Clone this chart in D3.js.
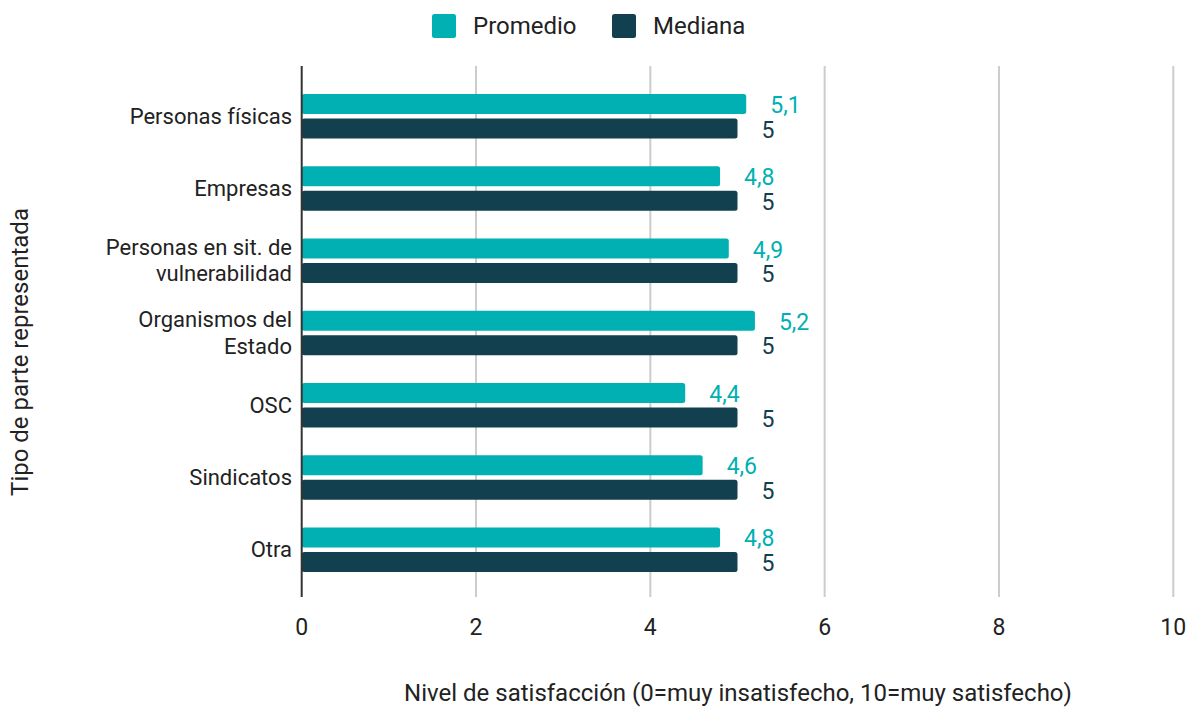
<!DOCTYPE html>
<html>
<head>
<meta charset="utf-8">
<script src="https://cdn.jsdelivr.net/npm/d3@7"></script>
<style>
  html, body { margin: 0; padding: 0; background: #fff; }
  svg { display: block; font-family: Roboto, "Noto Sans", sans-serif; }
</style>
</head>
<body>
<svg id="chart" width="1191" height="707"></svg>
<script>
// Satisfaction level by type of represented party
const categories = [
  ["Personas físicas"],
  ["Empresas"],
  ["Personas en sit. de", "vulnerabilidad"],
  ["Organismos del", "Estado"],
  ["OSC"],
  ["Sindicatos"],
  ["Otra"]
];
const promedio = [5.1, 4.8, 4.9, 5.2, 4.4, 4.6, 4.8];
const mediana = [5, 5, 5, 5, 5, 5, 5];
const seriesNames = ["Promedio", "Mediana"];
const seriesColors = ["#00b0b2", "#12404f"];
const xTicks = [0, 2, 4, 6, 8, 10];

const svg = d3.select("#chart");
const fmt = v => String(v).replace(".", ",");

const x = d3.scaleLinear().domain([0, 10]).range([301.7, 1173.3]);
const y = d3.scaleBand()
  .domain(categories.map((c, i) => i))
  .range([80, 585.5])
  .padding(0);

// vertical gridlines
svg.append("g")
  .selectAll("line")
  .data(xTicks.filter(t => t > 0))
  .join("line")
  .attr("x1", d => x(d)).attr("x2", d => x(d))
  .attr("y1", 66).attr("y2", 597)
  .attr("stroke", "#cccccc")
  .attr("stroke-width", 2);

// x tick labels
svg.append("g")
  .selectAll("text")
  .data(xTicks)
  .join("text")
  .attr("x", d => x(d))
  .attr("y", 627)
  .attr("dy", "0.35em")
  .attr("text-anchor", "middle")
  .attr("font-size", 23)
  .attr("fill", "#222")
  .text(d => d);

// bars
const barH = 20;
const offsets = [-22, 2.5];
const seriesData = [promedio, mediana];

seriesData.forEach((vals, s) => {
  const g = svg.append("g");
  g.selectAll("rect")
    .data(vals)
    .join("rect")
    .attr("x", x(0))
    .attr("y", (d, i) => y(i) + y.bandwidth() / 2 + offsets[s])
    .attr("width", d => x(d) - x(0))
    .attr("height", barH)
    .attr("rx", 2.5)
    .attr("fill", seriesColors[s]);

  g.selectAll("text")
    .data(vals)
    .join("text")
    .attr("x", d => x(d) + 24)
    .attr("y", (d, i) => y(i) + y.bandwidth() / 2 + offsets[s] + barH / 2 + 1)
    .attr("dy", "0.35em")
    .attr("font-size", 23)
    .attr("fill", seriesColors[s])
    .text(d => fmt(d));
});

// y axis line
svg.append("line")
  .attr("x1", x(0)).attr("x2", x(0))
  .attr("y1", 66).attr("y2", 597)
  .attr("stroke", "#333")
  .attr("stroke-width", 2);

// category labels
const catG = svg.append("g");
categories.forEach((lines, i) => {
  const cy = y(i) + y.bandwidth() / 2;
  const lh = 26.5;
  const t = catG.append("text")
    .attr("text-anchor", "end")
    .attr("font-size", 22)
    .attr("fill", "#222");
  lines.forEach((ln, k) => {
    t.append("tspan")
      .attr("x", 292)
      .attr("y", cy + (k - (lines.length - 1) / 2) * lh)
      .attr("dy", "0.35em")
      .text(ln);
  });
});

// axis titles
svg.append("text")
  .attr("x", 738)
  .attr("y", 693)
  .attr("dy", "0.35em")
  .attr("text-anchor", "middle")
  .attr("font-size", 24)
  .attr("fill", "#222")
  .text("Nivel de satisfacción (0=muy insatisfecho, 10=muy satisfecho)");

svg.append("text")
  .attr("transform", "translate(20,352) rotate(-90)")
  .attr("dy", "0.35em")
  .attr("text-anchor", "middle")
  .attr("font-size", 24)
  .attr("fill", "#222")
  .text("Tipo de parte representada");

// legend
const legend = svg.append("g");
const legendX = [432, 612];
seriesNames.forEach((name, i) => {
  legend.append("rect")
    .attr("x", legendX[i]).attr("y", 14)
    .attr("width", 24).attr("height", 24)
    .attr("rx", 2.5)
    .attr("fill", seriesColors[i]);
  legend.append("text")
    .attr("x", legendX[i] + 41)
    .attr("y", 26)
    .attr("dy", "0.35em")
    .attr("font-size", 24)
    .attr("fill", "#222")
    .text(name);
});
</script>
</body>
</html>
